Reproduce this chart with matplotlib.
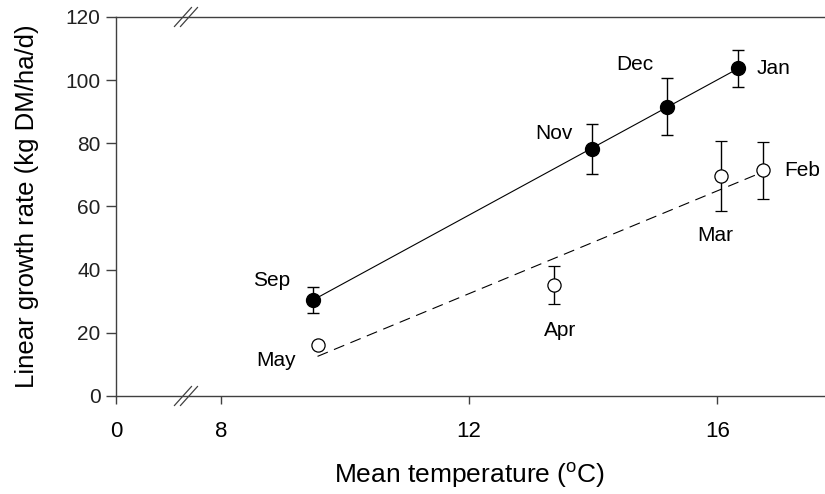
import matplotlib.pyplot as plt
import numpy as np

# filled symbols (Sep-Jan)
months_a = ["Sep", "Nov", "Dec", "Jan"]
temp_a = [9.48, 13.99, 15.19, 16.33]
rate_a = [30.4, 78.2, 91.6, 103.7]
err_a = [4, 8, 9, 6]

# open symbols (Feb-May)
months_b = ["May", "Apr", "Mar", "Feb"]
temp_b = [9.56, 13.37, 16.06, 16.73]
rate_b = [16.1, 35.1, 69.7, 71.5]
err_b = [0, 6, 11, 9]

xticks = [0, 8, 12, 16]
yticks = [0, 20, 40, 60, 80, 100, 120]

# compress the 0-8 part of the x axis
G = 1.687


def fwd(x):
    x = np.asarray(x, dtype=float)
    return np.where(x >= 8, x, 8 - G + x * G / 8)


def inv(u):
    u = np.asarray(u, dtype=float)
    return np.where(u >= 8, u, (u - 8 + G) * 8 / G)


plt.rcParams['font.family'] = ['Liberation Sans', 'DejaVu Sans']
plt.rcParams['mathtext.fontset'] = 'custom'
plt.rcParams['mathtext.rm'] = 'Liberation Sans'

fig = plt.figure(figsize=(8.25, 4.94), dpi=100)
ax = fig.add_axes([0.1406, 0.1984, 0.8582, 0.7672])
ax.set_xscale('function', functions=(fwd, inv))

spine_col = '#404040'

# regression lines
for t, r, ls in [(temp_a, rate_a, '-'), (temp_b, rate_b, (0, (10, 6)))]:
    k, b = np.polyfit(t, r, 1)
    xs = np.array([min(t), max(t)])
    ax.plot(xs, k * xs + b, color='black', lw=0.8, linestyle=ls, zorder=2)

ax.errorbar(temp_a, rate_a, yerr=err_a, fmt='o', color='black', ms=10,
            mfc='black', mec='black', ecolor='black', elinewidth=1,
            capsize=4.5, capthick=1, zorder=3)
ax.errorbar(temp_b, rate_b, yerr=err_b, fmt='o', color='black', ms=9.5,
            mfc='white', mec='black', mew=0.9, ecolor='black', elinewidth=1,
            capsize=4.5, capthick=1, zorder=3)

# month labels, offsets in pixels from the points
offs_a = {"Sep": (-41, 19), "Nov": (-39, 16), "Dec": (-32, 42), "Jan": (36, 0)}
offs_b = {"May": (-41, -15), "Apr": (6, -45), "Mar": (-6, -60), "Feb": (40, 0)}
for m, t, r in zip(months_a, temp_a, rate_a):
    ax.annotate(m, (t, r), xytext=offs_a[m], textcoords='offset pixels',
                ha='center', va='center', fontsize=15)
for m, t, r in zip(months_b, temp_b, rate_b):
    ax.annotate(m, (t, r), xytext=offs_b[m], textcoords='offset pixels',
                ha='center', va='center', fontsize=15)

ax.set_xlim(0, 17.72)
ax.set_ylim(0, 120)
ax.set_xticks(xticks)
ax.set_yticks(yticks)
ax.tick_params(axis='y', direction='out', length=7, width=1, labelsize=15,
               pad=4, colors=spine_col, labelcolor='#202020')
ax.tick_params(axis='x', direction='out', length=6, width=1, labelsize=16,
               pad=12, colors=spine_col, labelcolor='black')

for s in ['left', 'bottom', 'top']:
    ax.spines[s].set_color(spine_col)
    ax.spines[s].set_linewidth(1)
ax.spines['right'].set_visible(False)

ax.set_ylabel('Linear growth rate (kg DM/ha/d)', fontsize=18.5, labelpad=19)
ax.set_xlabel(r'Mean temperature ($^{\mathrm{o}}$C)', fontsize=19,
              labelpad=13)

# axis break marks on top and bottom spines
bx, dx, dy, gap = 0.0946, 0.012, 0.025, 0.0085
for yb in (0, 1):
    for off in (0, gap):
        ax.plot([bx + off - dx, bx + off + dx], [yb - dy, yb + dy],
                transform=ax.transAxes, color=spine_col, lw=0.9,
                clip_on=False, zorder=5)

fig.savefig('out.png', dpi=100)
